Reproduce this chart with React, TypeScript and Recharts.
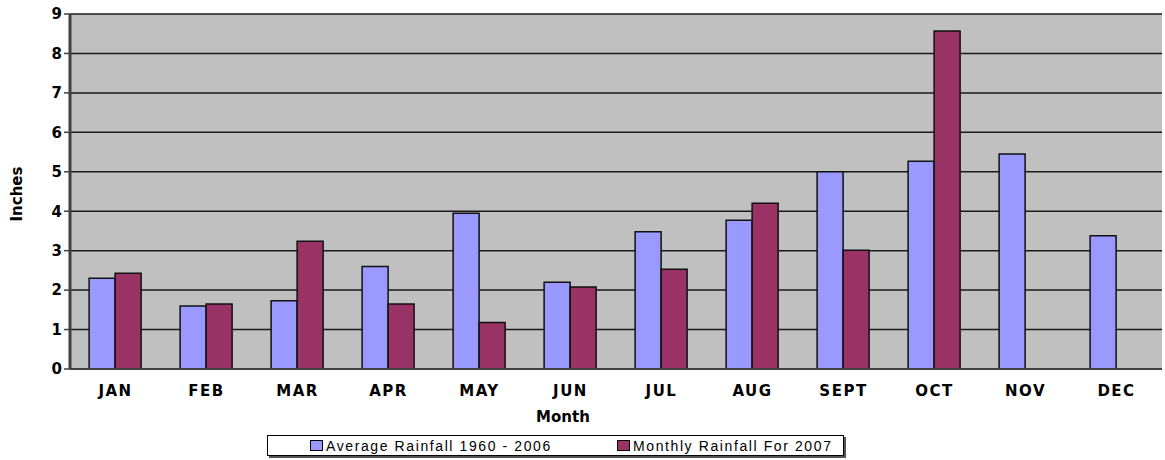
import React from 'react';
import { BarChart, Bar, XAxis, YAxis, CartesianGrid } from 'recharts';

const months = ['JAN', 'FEB', 'MAR', 'APR', 'MAY', 'JUN', 'JUL', 'AUG', 'SEPT', 'OCT', 'NOV', 'DEC'];
const averageRainfall = [2.3, 1.6, 1.73, 2.6, 3.95, 2.2, 3.48, 3.77, 5.0, 5.27, 5.45, 3.38];
const monthly2007: (number | null)[] = [2.43, 1.65, 3.24, 1.65, 1.18, 2.08, 2.53, 4.2, 3.01, 8.57, null, null];
const yTicks = [0, 1, 2, 3, 4, 5, 6, 7, 8, 9];
const seriesNames = ['Average Rainfall 1960 - 2006', 'Monthly Rainfall For 2007'];
const colors = ['#9999ff', '#993366'];

const data = months.map((m, i) => ({ month: m, avg: averageRainfall[i], monthly: monthly2007[i] }));

const FONT = '"DejaVu Sans", "Liberation Sans", Arial, sans-serif';

export default function App() {
  return (
    <div style={{ position: 'absolute', left: 0, top: 0, width: 1165, height: 460, background: '#fff' }}>
      <BarChart
        width={1165}
        height={460}
        data={data}
        margin={{ top: 14, right: 3, left: 0, bottom: 31 }}
        barCategoryGap="21%"
        barGap={0}
      >
        <CartesianGrid vertical={false} stroke="#1a1a1a" strokeWidth={1.5} fill="#c0c0c0" fillOpacity={1} />
        <XAxis
          dataKey="month"
          height={60}
          interval={0}
          axisLine={{ stroke: '#404040', strokeWidth: 2 }}
          tickLine={false}
          tick={{ fill: '#000', fontSize: 15, fontWeight: 'bold', fontFamily: FONT, dy: 8, letterSpacing: 1.5 }}
          label={{
            content: () => (
              <text x={563} y={422} textAnchor="middle" fontFamily={FONT} fontSize={15} fontWeight="bold" fill="#000">
                Month
              </text>
            ),
          }}
        />
        <YAxis
          width={70}
          domain={[0, 9]}
          ticks={yTicks}
          interval={0}
          axisLine={{ stroke: '#404040', strokeWidth: 3 }}
          tickLine={{ stroke: '#404040', strokeWidth: 1.5 }}
          tickSize={6}
          tick={{ fill: '#000', fontSize: 15, fontWeight: 'bold', fontFamily: FONT }}
          label={{
            content: () => (
              <text
                x={17}
                y={194}
                transform="rotate(-90 17 194)"
                textAnchor="middle"
                dominantBaseline="central"
                fontFamily={FONT}
                fontSize={15}
                fontWeight="bold"
                fill="#000"
              >
                Inches
              </text>
            ),
          }}
        />
        <Bar dataKey="avg" name={seriesNames[0]} fill={colors[0]} stroke="#111" strokeWidth={1.5} isAnimationActive={false} />
        <Bar dataKey="monthly" name={seriesNames[1]} fill={colors[1]} stroke="#111" strokeWidth={1.5} isAnimationActive={false} />
      </BarChart>
      <div
        style={{
          position: 'absolute',
          left: 267,
          top: 435,
          width: 575,
          height: 19,
          border: '1.5px solid #000',
          boxShadow: '2px 2px 0 #555',
          background: '#fff',
          fontFamily: '"Liberation Sans", Arial, sans-serif',
          fontSize: 14,
          letterSpacing: 1.6,
          color: '#000',
        }}
      >
        {seriesNames.map((n, i) => (
          <div
            key={n}
            style={{ position: 'absolute', left: i === 0 ? 42 : 349, top: 0, height: 19, display: 'flex', alignItems: 'center', whiteSpace: 'nowrap' }}
          >
            <span
              style={{
                display: 'inline-block',
                width: 11,
                height: 9,
                background: colors[i],
                border: '1.5px solid #000',
                marginRight: 3,
              }}
            />
            <span>{n}</span>
          </div>
        ))}
      </div>
    </div>
  );
}
